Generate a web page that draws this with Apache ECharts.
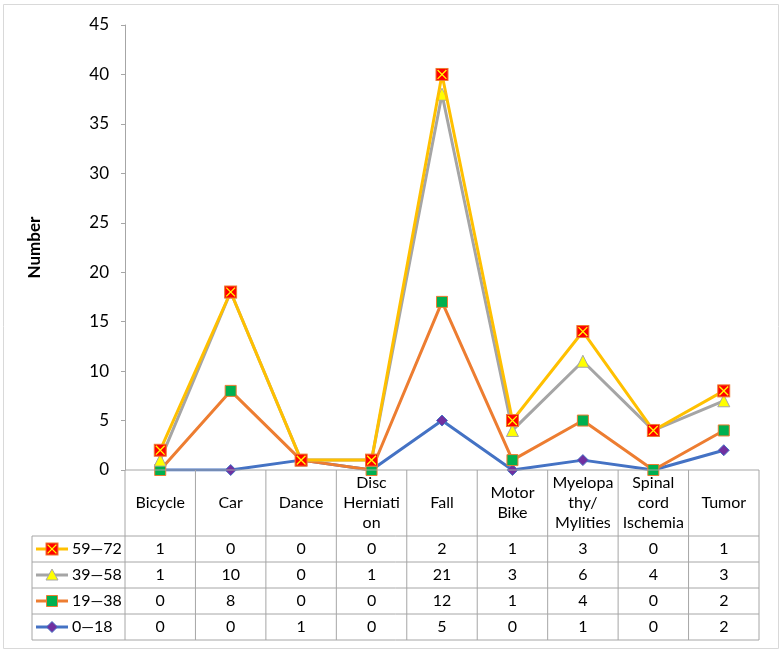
<!DOCTYPE html>
<html><head><meta charset="utf-8">
<script src="https://cdn.jsdelivr.net/npm/echarts@6/dist/echarts.min.js"></script>
<style>html,body{margin:0;padding:0;background:#fff}#c{width:784px;height:654px}</style>
</head><body><div id="c"></div>
<script>
var categories = ['Bicycle','Car','Dance','Disc\nHerniati\non','Fall','Motor\nBike','Myelopa\nthy/\nMylities','Spinal\ncord\nIschemia','Tumor'];
var seriesNames = ['0\u201418','19\u201438','39\u201458','59\u201472'];
var v0_18  = [0,0,1,0,5,0,1,0,2];
var v19_38 = [0,8,0,0,12,1,4,0,2];
var v39_58 = [1,10,0,1,21,3,6,4,3];
var v59_72 = [1,0,0,0,2,1,3,0,1];
var yTicks = [0,5,10,15,20,25,30,35,40,45];

(function(){
var FONT = 'Lato';
var crossSvg = "<svg xmlns='http://www.w3.org/2000/svg' width='14' height='14'><rect x='1' y='1' width='12' height='12' fill='#FF0000' stroke='#ED7D31' stroke-width='1'/><path d='M2.6 2.6L11.4 11.4M11.4 2.6L2.6 11.4' stroke='#FFFF00' stroke-width='1.3'/></svg>";
var crossUrl = 'data:image/svg+xml;charset=utf-8,' + encodeURIComponent(crossSvg);
var crossSym = 'image://' + crossUrl;

var styles = [
  {line:'#4472C4', symbol:'diamond', size:11, fill:'#7030A0', border:'#4472C4'},
  {line:'#ED7D31', symbol:'rect', size:11, fill:'#00B050', border:'#ED7D31'},
  {line:'#A5A5A5', symbol:'triangle', size:12, fill:'#FFFF00', border:'#A5A5A5'},
  {line:'#FFC000', symbol:crossSym, size:14, fill:'#FF0000', border:'#ED7D31'}
];
var values = [v0_18, v19_38, v39_58, v59_72];

var chart = echarts.init(document.getElementById('c'), null, {renderer:'canvas'});
var option = {
  animation:false,
  grid:{left:125, right:25, top:25, bottom:184},
  xAxis:{type:'category', data:categories, boundaryGap:true,
    axisLine:{show:false}, axisTick:{show:false}, axisLabel:{show:false}},
  yAxis:{type:'value', min:yTicks[0], max:yTicks[yTicks.length-1], interval:yTicks[1]-yTicks[0],
    name:'Number', nameLocation:'middle', nameGap:82, nameRotate:90,
    nameTextStyle:{fontFamily:FONT, fontSize:17, fontWeight:'bold', color:'#000'},
    axisLine:{show:true, lineStyle:{color:'#A6A6A6', width:1}},
    axisTick:{show:true, inside:false, length:4, lineStyle:{color:'#A6A6A6'}},
    axisLabel:{margin:16, fontFamily:FONT, fontSize:17, color:'#000'},
    splitLine:{show:false}},
  series: values.map(function(v,i){
    var s = styles[i];
    return {type:'line', name:seriesNames[i], data:v, stack:'total',
      symbol:s.symbol, symbolSize:s.size, showAllSymbol:true,
      lineStyle:{color:s.line, width:3},
      itemStyle:{color:s.fill, borderColor:s.border, borderWidth:1},
      z: 2+i};
  })
};
chart.setOption(option);

var x0 = chart.convertToPixel({xAxisIndex:0}, 0);
var x1 = chart.convertToPixel({xAxisIndex:0}, 1);
var bw = x1 - x0;
var tLeft = x0 - bw/2;
var tRight = tLeft + bw*categories.length;
var tTop = chart.convertToPixel({yAxisIndex:0}, 0);
var headerBottom = 536;
var rowH = 26;
var legendLeft = 32;
var gcol = '#A6A6A6';
var els = [];
function addLine(xa,ya,xb,yb){ els.push({type:'line', shape:{x1:xa,y1:ya,x2:xb,y2:yb}, style:{stroke:gcol, lineWidth:1}, z:10}); }
function addText(t,x,y,align){ els.push({type:'text', x:x, y:y, style:{text:t, fill:'#000', font:'16px '+FONT, textAlign:align||'center', textVerticalAlign:'middle', lineHeight:20}, z:11}); }
els.push({type:'rect', shape:{x:3.5,y:4.5,width:775,height:644}, style:{fill:null, stroke:'#D9D9D9', lineWidth:1}, z:0});
addLine(tLeft, tTop, tRight, tTop);
for (var r=0;r<=4;r++) addLine(legendLeft, headerBottom+r*rowH, tRight, headerBottom+r*rowH);
addLine(legendLeft, headerBottom, legendLeft, headerBottom+4*rowH);
for (var c=0;c<=categories.length;c++) addLine(tLeft+c*bw, tTop, tLeft+c*bw, headerBottom+4*rowH);
categories.forEach(function(cat,i){ addText(cat, tLeft+bw*(i+0.5), (tTop+headerBottom)/2); });
var rowOrder = [3,2,1,0];
rowOrder.forEach(function(si,r){
  var cy = headerBottom + rowH*(r+0.5);
  var s = styles[si];
  els.push({type:'line', shape:{x1:36,y1:cy,x2:68,y2:cy}, style:{stroke:s.line, lineWidth:3}, z:11});
  if (si===3) {
    els.push({type:'image', style:{image:crossUrl, x:45, y:cy-7, width:14, height:14}, z:12});
  } else if (si===2) {
    els.push({type:'polygon', shape:{points:[[52,cy-6],[58,cy+5],[46,cy+5]]}, style:{fill:s.fill, stroke:s.border, lineWidth:1}, z:12});
  } else if (si===1) {
    els.push({type:'rect', shape:{x:46.5,y:cy-5.5,width:11,height:11}, style:{fill:s.fill, stroke:s.border, lineWidth:1}, z:12});
  } else {
    els.push({type:'polygon', shape:{points:[[52,cy-5.5],[57.5,cy],[52,cy+5.5],[46.5,cy]]}, style:{fill:s.fill, stroke:s.border, lineWidth:1}, z:12});
  }
  addText(seriesNames[si], 72, cy, 'left');
  values[si].forEach(function(v,i){ addText(String(v), tLeft+bw*(i+0.5), cy); });
});
chart.setOption({graphic:{elements:els}});
})();
</script></body></html>
